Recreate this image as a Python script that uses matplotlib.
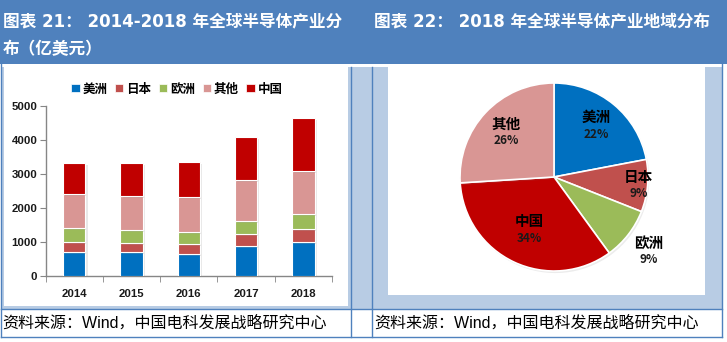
import matplotlib
matplotlib.use("Agg")
import matplotlib.pyplot as plt
import numpy as np
from matplotlib.patches import Rectangle, Patch
from matplotlib.lines import Line2D
import matplotlib.patheffects as pe

plt.rcParams['font.family'] = ['Noto Sans CJK SC', 'DejaVu Sans']

# ---------------- data ----------------
years = ['2014', '2015', '2016', '2017', '2018']
regions = ['美洲', '日本', '欧洲', '其他', '中国']
americas = [704, 704, 646, 881, 1018]
japan = [314, 284, 313, 371, 381]
europe = [391, 362, 352, 382, 441]
others = [1018, 1018, 1008, 1184, 1242]
china = [900, 959, 1037, 1272, 1566]
y_ticks = [0, 1000, 2000, 3000, 4000, 5000]

pie_labels = ['美洲', '日本', '欧洲', '中国', '其他']
pie_values = [22, 9, 9, 34, 26]

title_left_1 = '图表 21： 2014-2018 年全球半导体产业分'
title_left_2 = '布（亿美元）'
title_right = '图表 22： 2018 年全球半导体产业地域分布'
source_text = '资料来源：Wind，中国电科发展战略研究中心'

# ---------------- style ----------------
C_US = '#0070C0'
C_JP = '#C0504D'
C_EU = '#9BBB59'
C_OT = '#D99694'
C_CN = '#C00000'
series_colors = [C_US, C_JP, C_EU, C_OT, C_CN]
pie_colors = {'美洲': C_US, '日本': C_JP, '欧洲': C_EU, '中国': C_CN, '其他': C_OT}
HEAD = '#4F81BD'
LIGHT = '#B8CCE4'

W, H = 727, 342
fig = plt.figure(figsize=(W / 100, H / 100), dpi=100)
fig.patch.set_facecolor('white')


def fx(px):
    return px / W


def fy(py):
    return 1 - py / H


def rect(x0, y0, x1, y1, color, z=0):
    fig.patches.append(Rectangle((fx(x0), fy(y1)), fx(x1) - fx(x0), (y1 - y0) / H,
                                 transform=fig.transFigure, facecolor=color,
                                 edgecolor='none', zorder=z))


def vline(x, y0, y1):
    fig.lines.append(Line2D([fx(x), fx(x)], [fy(y0), fy(y1)], transform=fig.transFigure,
                            color=HEAD, lw=1.0, zorder=2))


def hline(y, x0, x1):
    fig.lines.append(Line2D([fx(x0), fx(x1)], [fy(y), fy(y)], transform=fig.transFigure,
                            color=HEAD, lw=1.0, zorder=2))


# backgrounds
rect(0, 0, W, 64, HEAD)
rect(1, 67, 722, 309, LIGHT)
rect(4, 64, 348, 306, 'white', 1)
rect(388, 64, 705, 295, 'white', 1)
rect(0, 64, 722, 67, 'white', 1)

for x in (1, 351, 372, 722):
    vline(x, 64 if x in (1, 722) else 67, 337)
hline(309, 1, 722)
hline(337, 1, 722)

# titles
TFAM = ['DejaVu Sans', 'Noto Sans CJK SC']
tkw = dict(color='white', fontsize=12, fontweight='bold', va='center', ha='left',
           family=TFAM, zorder=3)
fig.text(fx(3), fy(21), title_left_1, **tkw)
fig.text(fx(3), fy(49), title_left_2, **tkw)
fig.text(fx(374), fy(21), title_right, **tkw)

# sources
skw = dict(fontsize=11.5, color='black', va='center', ha='left', zorder=3,
           family=['Liberation Sans', 'Noto Sans CJK SC'])
fig.text(fx(2), fy(323), source_text, **skw)
fig.text(fx(374), fy(323), source_text, **skw)

# ---------------- bar chart ----------------
ax = fig.add_axes([fx(45.7), fy(276.3), (332 - 45.7) / W, (276.3 - 106) / H])
ax.set_zorder(5)
ax.set_facecolor('none')
x = np.arange(len(years))
bottom = np.zeros(len(years))
shadow = [pe.SimplePatchShadow(offset=(1.5, -1.5), alpha=0.18, shadow_rgbFace='gray'), pe.Normal()]
for name, vals, col in zip(regions, [americas, japan, europe, others, china], series_colors):
    bars = ax.bar(x, vals, width=0.39, bottom=bottom, color=col, edgecolor='white',
                  linewidth=0.8, label=name, zorder=3)
    for b in bars:
        b.set_path_effects(shadow)
    bottom += np.array(vals)

ax.set_xlim(-0.5, len(years) - 0.5)
ax.set_ylim(0, 5000)
ax.set_yticks(y_ticks)
ax.set_yticklabels([str(v) for v in y_ticks])
ax.set_xticks(x)
ax.set_xticklabels(years)
ax.set_xticks(np.arange(len(years) + 1) - 0.5, minor=True)
for s in ('top', 'right'):
    ax.spines[s].set_visible(False)
for s in ('left', 'bottom'):
    ax.spines[s].set_color('#868686')
    ax.spines[s].set_linewidth(1.0)
ax.tick_params(axis='x', which='major', length=0, pad=9)
ax.tick_params(axis='x', which='minor', length=4, color='#868686')
ax.tick_params(axis='y', length=4, color='#868686', pad=2)
for lab in ax.get_xticklabels() + ax.get_yticklabels():
    lab.set_fontfamily('Liberation Sans')
    lab.set_fontweight('bold')
    lab.set_fontsize(8.2)
    lab.set_color('#1a1a1a')

handles = [Patch(facecolor=c, edgecolor='white', linewidth=0.5) for c in series_colors]
leg = fig.legend(handles, regions, loc='center', bbox_to_anchor=(fx(177), fy(89)), ncol=5,
                 frameon=False, handlelength=0.65, handleheight=0.65, handletextpad=0.25,
                 columnspacing=0.6, prop={'weight': 'bold', 'size': 9})
leg.set_zorder(6)

# ---------------- pie chart ----------------
R = 94
cx, cy = 554, 177
pax = fig.add_axes([fx(cx - R), fy(cy + R), 2 * R / W, 2 * R / H])
pax.set_zorder(5)
pax.set_facecolor('none')
wedges, _ = pax.pie(pie_values, colors=[pie_colors[l] for l in pie_labels], startangle=90,
                    counterclock=False, radius=1,
                    wedgeprops=dict(edgecolor='white', linewidth=1.2))
for w in wedges:
    w.set_path_effects([pe.SimplePatchShadow(offset=(1, -1.5), alpha=0.15, shadow_rgbFace='gray'),
                        pe.Normal()])
pax.set_xlim(-1, 1)
pax.set_ylim(-1, 1)
pax.set_aspect('equal')
pax.axis('off')

label_dist = [0.71, 0.9, 1.28, 0.62, 0.70]
for w, lab, val, d in zip(wedges, pie_labels, pie_values, label_dist):
    ang = np.deg2rad((w.theta1 + w.theta2) / 2)
    lx, ly = d * np.cos(ang), d * np.sin(ang)
    pax.text(lx, ly + 0.09, lab, ha='center', va='center', fontsize=10.5,
             fontweight='bold', color='black', clip_on=False)
    pax.text(lx, ly - 0.09, f'{val}%', ha='center', va='center', fontsize=8.5,
             fontweight='bold', color='#1a1a1a', clip_on=False)

fig.savefig('out.png', dpi=100)
